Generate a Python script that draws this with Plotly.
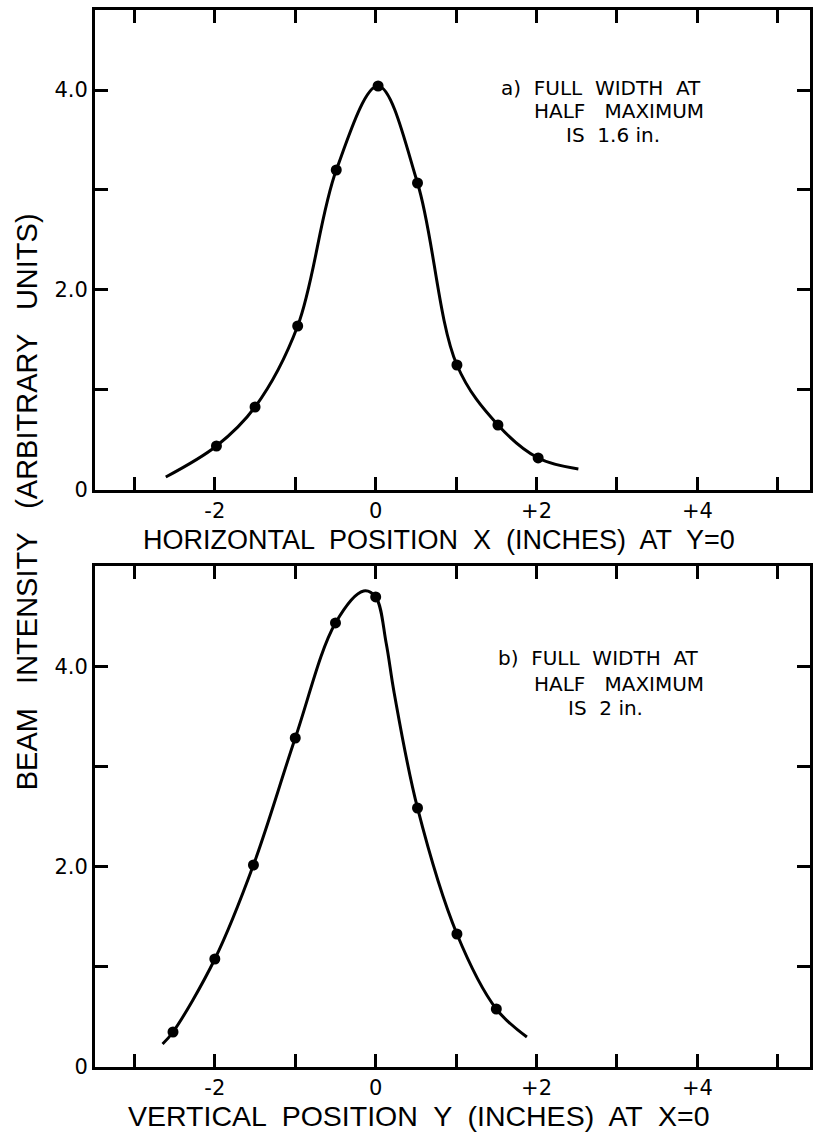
import plotly.graph_objects as go

# ---- data ----
# (a) horizontal profile at Y=0
top_x = [-1.98, -1.50, -0.97, -0.49, 0.03, 0.52, 1.01, 1.52, 2.02]
top_y = [0.44, 0.83, 1.64, 3.20, 4.04, 3.07, 1.25, 0.65, 0.32]
top_curve_x = [-2.61, -1.98, -1.50, -0.97, -0.49, 0.03, 0.52, 1.01, 1.52, 2.02, 2.52]
top_curve_y = [0.13, 0.44, 0.83, 1.64, 3.20, 4.04, 3.07, 1.25, 0.65, 0.32, 0.21]

# (b) vertical profile at X=0
bot_x = [-2.52, -2.00, -1.52, -1.00, -0.50, 0.00, 0.52, 1.01, 1.50]
bot_y = [0.35, 1.08, 2.02, 3.29, 4.44, 4.70, 2.59, 1.33, 0.58]
bot_curve_x = [-2.65, -2.52, -2.00, -1.52, -1.00, -0.50, -0.15, 0.00, 0.13, 0.23, 0.52, 1.01, 1.50, 1.88]
bot_curve_y = [0.23, 0.35, 1.08, 2.02, 3.29, 4.44, 4.76, 4.70, 4.24, 3.74, 2.59, 1.33, 0.58, 0.30]

x_tickvals = [-3, -2, -1, 0, 1, 2, 3, 4, 5]
x_ticktext = ["", "-2", "", "0", "", "+2", "", "+4", ""]
y_tickvals = [0, 1, 2, 3, 4]
y_ticktext = ["0", "", "2.0", "", "4.0"]

FONT = "Liberation Sans"
FONT2 = "DejaVu Sans"

fig = go.Figure()
fig.add_trace(go.Scatter(x=top_curve_x, y=top_curve_y, mode="lines",
                         line=dict(color="black", width=3, shape="spline", smoothing=1.0),
                         xaxis="x", yaxis="y", showlegend=False, hoverinfo="skip"))
fig.add_trace(go.Scatter(x=top_x, y=top_y, mode="markers",
                         marker=dict(color="black", size=11),
                         xaxis="x", yaxis="y", showlegend=False))
fig.add_trace(go.Scatter(x=bot_curve_x, y=bot_curve_y, mode="lines",
                         line=dict(color="black", width=3, shape="spline", smoothing=1.0),
                         xaxis="x2", yaxis="y2", showlegend=False, hoverinfo="skip"))
fig.add_trace(go.Scatter(x=bot_x, y=bot_y, mode="markers",
                         marker=dict(color="black", size=11),
                         xaxis="x2", yaxis="y2", showlegend=False))

axis_common = dict(showline=True, linecolor="black", linewidth=3, mirror="ticks",
                   ticks="inside", ticklen=13, tickwidth=2.5, tickcolor="black",
                   showgrid=False, zeroline=False,
                   tickfont=dict(family=FONT2, size=21, color="black"))

xr = [-3.49, 5.40]
fig.update_layout(
    width=813, height=1135,
    margin=dict(l=95, r=0, t=10, b=68),
    paper_bgcolor="white", plot_bgcolor="white",
    xaxis=dict(domain=[0, 1], anchor="y", range=xr,
               tickvals=x_tickvals, ticktext=x_ticktext, **axis_common),
    yaxis=dict(domain=[0.5459, 1], anchor="x", range=[0, 4.8],
               tickvals=y_tickvals, ticktext=y_ticktext, **axis_common),
    xaxis2=dict(domain=[0, 1], anchor="y2", range=xr,
                tickvals=x_tickvals, ticktext=x_ticktext, **axis_common),
    yaxis2=dict(domain=[0, 0.474], anchor="x2", range=[0, 5.01],
                tickvals=y_tickvals, ticktext=y_ticktext, **axis_common),
)

ann_font = dict(family=FONT2, size=20, color="black")
title_font = dict(family=FONT, size=27, color="black")
title2_font = dict(family=FONT, size=28.5, color="black")
ytitle_font = dict(family=FONT, size=29, color="black")

annotations = [
    # panel a text
    dict(x=1.53, y=4.02, xref="x", yref="y", text="a)  FULL  WIDTH  AT", xanchor="left", yanchor="middle", showarrow=False, font=ann_font),
    dict(x=1.94, y=3.79, xref="x", yref="y", text="HALF   MAXIMUM", xanchor="left", yanchor="middle", showarrow=False, font=ann_font),
    dict(x=2.34, y=3.555, xref="x", yref="y", text="IS  1.6 in.", xanchor="left", yanchor="middle", showarrow=False, font=ann_font),
    # panel b text
    dict(x=1.49, y=4.09, xref="x2", yref="y2", text="b)  FULL  WIDTH  AT", xanchor="left", yanchor="middle", showarrow=False, font=ann_font),
    dict(x=1.94, y=3.83, xref="x2", yref="y2", text="HALF   MAXIMUM", xanchor="left", yanchor="middle", showarrow=False, font=ann_font),
    dict(x=2.36, y=3.59, xref="x2", yref="y2", text="IS  2 in.", xanchor="left", yanchor="middle", showarrow=False, font=ann_font),
    # axis titles (positions in pixels, converted below)
    dict(x=440, y=1135 - 540, xref="paper", yref="paper", text="HORIZONTAL  POSITION  X  (INCHES)  AT  Y=0",
         showarrow=False, font=title_font, xanchor="center", yanchor="middle"),
    dict(x=420, y=1135 - 1116, xref="paper", yref="paper", text="VERTICAL  POSITION  Y  (INCHES)  AT  X=0",
         showarrow=False, font=title2_font, xanchor="center", yanchor="middle"),
    dict(x=27, y=1135 - 502, xref="paper", yref="paper", text="BEAM   INTENSITY   (ARBITRARY   UNITS)",
         showarrow=False, font=ytitle_font, textangle=-90, xanchor="center", yanchor="middle"),
]
plot_w = 813 - 95
plot_h = 1135 - 10 - 68
for a in annotations[6:]:
    a["x"] = (a["x"] - 95) / plot_w
    a["y"] = (a["y"] - 68) / plot_h
fig.update_layout(annotations=annotations)

fig.write_html("out.html", config={"displayModeBar": False},
               post_script="document.body.style.margin='0px';document.body.style.overflow='hidden';")
